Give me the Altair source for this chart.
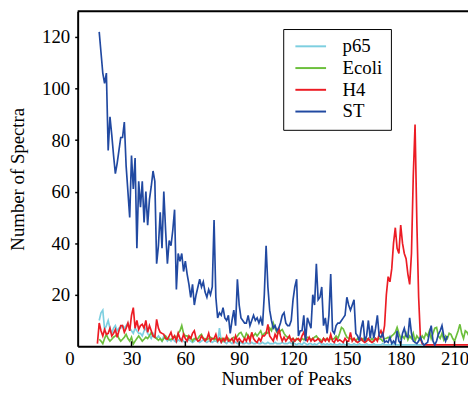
import altair as alt
import pandas as pd

# ---------------- data ----------------
series_names = ["p65", "Ecoli", "H4", "ST"]
series_colors = ["#7dcfe0", "#6cbf3c", "#ec1c24", "#2149a1"]

x_ticks = [0, 30, 60, 90, 120, 150, 180, 210]
y_ticks = [20, 40, 60, 80, 100, 120]

p65_start = 12
p65_values = [
    10, 13, 14, 6.5, 8, 10, 7, 5, 7, 8,
    6, 7, 7, 8, 7, 8, 9, 7, 6, 5,
    7, 6, 5, 5, 4, 6, 7, 5, 4, 3,
    5, 4, 3, 4, 3, 2, 4, 3, 2, 3,
    2, 3, 2, 1.5, 2.5, 2, 3, 2, 1.5, 2,
    2.5, 2, 1.5, 2, 3, 2, 1.5, 2, 2.5, 2,
    1.5, 2, 2, 1.5, 2, 2, 1.5, 7, 1.5, 2,
    1.5, 1, 2, 1.5, 1, 2, 1.5, 1, 1, 1.5,
    1, 1, 1.5, 1, 1, 1.5, 1, 1, 1.5, 1,
    1, 1.5, 1, 1, 1.5, 1, 1, 1, 1.5, 1,
    1, 1, 1.5, 1, 1, 1, 1.5, 1, 1, 1,
    0.5, 1, 1, 0.5, 1.5, 1, 0.5, 1, 1, 0.5,
    1, 0.5, 1, 1.5, 0.5, 1, 0.5, 1, 0.5, 1,
    0.5, 1, 0.5, 0.5, 1, 0.5, 1, 0.5, 0.5, 1,
    0.5, 0.5, 1, 0.5, 0.5, 1, 0.5, 0.5, 0.5, 1,
    0.5, 0.5, 0.5, 1, 0.5, 0.5, 0.5, 0.5, 1, 0.5,
    0.5, 0.5, 0.5, 0.5, 1, 0.5, 0.5, 0.5, 0.5, 0.5,
    0.5, 0.5, 0.5, 0.5, 0.5, 0.5, 0.5, 0.5, 0.5, 0.5,
    0.5, 0.5, 0.5, 0.5,
]

ecoli_start = 12
ecoli_values = [
    2.7, 2, 1, 3, 4.6, 3, 2, 2.7, 3.5, 4,
    4.6, 3, 2, 2.7, 3.5, 4.6, 3, 2, 3.5, 0.8,
    2, 3, 4, 3, 2, 2.7, 3.5, 3, 4, 5.4,
    4, 3.5, 3, 2.3, 3, 2, 3, 4, 3, 2.5,
    2.7, 3, 4, 3, 5, 6, 8, 5, 4, 4,
    3, 3.5, 2, 3, 2.7, 3, 4, 4.6, 3, 3,
    2.5, 3, 3.5, 3, 2.5, 3, 2, 2.7, 3, 2,
    3, 2.5, 3, 2, 3, 3.5, 3, 4, 5, 5.4,
    4, 3, 5, 4, 3.5, 4.6, 4, 5, 4, 5,
    6, 4, 5, 5.4, 5, 7, 6, 9, 7, 5.4,
    5, 6, 6.5, 5, 4, 3.5, 3, 2.7, 3, 2,
    3, 2.5, 2, 3, 2.5, 3, 3.5, 3, 2.5, 3,
    3.5, 4, 3, 2.7, 2, 3, 2.5, 3, 2, 3,
    2.7, 3, 4, 3, 5, 7.3, 6.7, 5, 3.5, 3,
    3, 2.5, 3, 2, 3, 2.5, 2.3, 3, 2, 3,
    2.5, 2, 3, 2, 3, 2.5, 3, 2.7, 2, 3,
    3, 3.5, 3, 4, 4.6, 5.4, 7.3, 5, 3, 4,
    3, 5, 2.5, 4, 3, 5, 2, 4, 3, 2.5,
    4, 3, 5, 4, 6, 3, 5, 7, 7.3, 4,
    3, 5, 2.5, 4, 3, 5, 4.6, 3, 2, 4,
    6, 8.5, 5, 3, 6, 5.4, 4, 3, 5,
]

h4_start = 11
h4_values = [
    1, 9, 6, 4, 6.5, 4.6, 5, 7, 4, 5,
    6.5, 3.5, 6, 8, 8, 5.4, 7, 9, 6, 12,
    15, 7, 10, 6.5, 8, 8.5, 7, 10, 5.4, 8,
    6, 4, 3.5, 10.4, 7, 5.4, 5, 4.6, 3, 2.7,
    4, 5.4, 3, 4, 2, 5, 3, 2, 4.6, 3,
    2, 4, 3, 5, 6, 3, 2, 2.3, 4, 3,
    2, 3, 5, 2, 3, 3, 4.6, 2, 3, 1.5,
    3, 2, 4, 2, 2.3, 3, 1.5, 4, 2, 3,
    2, 1.5, 3, 2, 4, 2, 5.4, 3, 2, 1.5,
    3, 2, 4, 4, 5, 8.5, 4, 3, 2, 4.6,
    3, 7.3, 4, 2, 3.5, 2, 3, 4, 2, 3,
    2, 2.7, 3, 2, 4, 5.4, 3, 2, 3.5, 2,
    3, 2, 2.3, 3, 2, 1.5, 3, 2, 3, 2,
    4.6, 2, 1.5, 3, 2, 2.5, 2, 1.5, 3, 2,
    2, 5.4, 2, 3, 2, 1.5, 2, 3, 2, 1.5,
    2, 3, 2, 1.5, 2, 3, 2, 4.6, 6, 4,
    8, 20, 27, 25, 30, 40, 46, 38, 36, 47,
    40, 36, 34, 28, 24, 36, 66, 86, 48, 19,
    3, 1, 0.5, 0.5, 0.5, 0.5, 0.5, 0.5, 0.5, 0.5,
    0.5, 0.5, 0.5, 0.5, 0.5, 0.5, 0.5, 0.5, 0.5, 0.5,
    0.5, 0.5, 0.5, 0.5, 0.5, 0.5, 0.5, 0.5, 0.5, 0.5,
]

st_start = 12
st_values = [
    122, 114, 106, 102, 106, 76, 89, 82, 74, 67,
    71, 76, 81, 81, 87, 70, 60, 50, 74, 61,
    73, 38, 64, 54, 64, 48, 60, 47, 57, 62,
    68, 64, 32, 39, 52, 38, 60, 45, 32, 41,
    39, 45, 53, 22, 36, 33, 36, 29, 33, 28,
    24, 19, 24, 16, 20, 23, 26, 23, 25, 21,
    19, 22, 20, 23, 49, 19, 11, 13, 12, 15,
    11, 10, 12, 5, 10, 14, 8, 26, 16, 11,
    10, 9, 9, 12, 8, 10, 12, 10, 11, 9,
    11, 8, 20, 39, 23, 14, 10, 7, 8, 6,
    7, 9, 12, 13, 9, 8, 8, 10, 18, 23,
    26, 4, 6, 6, 12, 2, 11, 9, 7, 20,
    16, 32, 18, 19, 23, 8, 11, 5, 12, 28,
    6, 5, 8, 9, 9, 10, 11, 12, 19, 16,
    14, 16, 18, 5, 4, 2, 7, 10, 2, 4,
    10, 3, 8, 3, 7, 12, 4, 3.5, 5, 1.5,
    2, 1.5, 3.5, 1, 2, 1, 6, 2, 1, 5,
    7, 4, 3.5, 11, 5, 2, 1.5, 1, 2, 3.5,
    1.5, 0.4, 1, 1.5, 5, 8, 2, 0.5, 2, 4.6,
    6, 8, 4, 2, 4,
]

# ---------------- build long table ----------------
rows = []
for name, x0, vals in [
    ("p65", p65_start, p65_values),
    ("Ecoli", ecoli_start, ecoli_values),
    ("H4", h4_start, h4_values),
    ("ST", st_start, st_values),
]:
    for i, v in enumerate(vals):
        rows.append({"peaks": x0 + i, "spectra": v, "series": name})
df = pd.DataFrame(rows)

FONT = "Liberation Serif"
FS = 19
W, H = 395, 339

x_scale = alt.Scale(domain=[0, 217.5], nice=False, zero=False)
y_scale = alt.Scale(domain=[0, 130], nice=False)

color = alt.Color(
    "series:N",
    scale=alt.Scale(domain=series_names, range=series_colors),
    legend=alt.Legend(
        title=None,
        orient="none",
        legendX=208,
        legendY=18,
        symbolType="M-1,0H5",
        symbolSize=107,
        symbolStrokeWidth=2,
        labelFont=FONT,
        labelFontSize=FS,
        labelColor="black",
        labelOffset=33,
        strokeColor="black",
        fillColor="white",
        padding=8,
        rowPadding=2,
    ),
)

x_axis = alt.Axis(
    values=x_ticks,
    title="Number of Peaks",
    ticks=False,
    grid=False,
    labelFont=FONT,
    labelFontSize=FS,
    labelColor="black",
    labelPadding=3,
    labelOffset={"condition": {"test": "datum.value === 0", "value": -13}, "value": 0},
    titleFont=FONT,
    titleFontSize=FS,
    titleFontWeight="normal",
    titleColor="black",
    titlePadding=2,
    titleX=211,
    domainColor="black",
    domainWidth=2,
)

y_axis = alt.Axis(
    values=y_ticks,
    title="Number of Spectra",
    grid=False,
    tickSize=3,
    tickColor="black",
    tickWidth=1.5,
    labelFont=FONT,
    labelFontSize=FS,
    labelColor="black",
    labelPadding=5,
    titleFont=FONT,
    titleFontSize=FS,
    titleFontWeight="normal",
    titleColor="black",
    titlePadding=14,
    domainColor="black",
    domainWidth=2,
)

layers = []
for name in series_names:
    layers.append(
        alt.Chart(df)
        .transform_filter(alt.datum.series == name)
        .mark_line(strokeWidth=1.7, clip=True)
        .encode(
            x=alt.X("peaks:Q", scale=x_scale, axis=x_axis),
            y=alt.Y("spectra:Q", scale=y_scale, axis=y_axis),
            color=color,
        )
    )

tick_df = pd.DataFrame({"peaks": x_ticks[1:]})
inner_ticks = alt.Chart(tick_df).mark_rule(color="black", strokeWidth=1.5).encode(
    x=alt.X("peaks:Q", scale=x_scale),
    y=alt.value(H - 5),
    y2=alt.value(H),
)

top_df = pd.DataFrame({"spectra": [130]})
top_line = alt.Chart(top_df).mark_rule(color="black", strokeWidth=2).encode(
    y=alt.Y("spectra:Q", scale=y_scale)
)

chart = (
    alt.layer(*layers, inner_ticks, top_line)
    .properties(
        width=W,
        height=H,
        autosize=alt.AutoSizeParams(type="none"),
        padding={"left": 70.5, "top": 1, "right": 0, "bottom": 42},
        background="white",
    )
    .configure_view(stroke=None)
    .configure_axis(labelFont=FONT, titleFont=FONT, labelFontSize=FS, titleFontSize=FS)
    .configure_legend(labelFont=FONT, labelFontSize=FS)
)

chart.save("out.html", embed_options={"renderer": "svg", "actions": False})
